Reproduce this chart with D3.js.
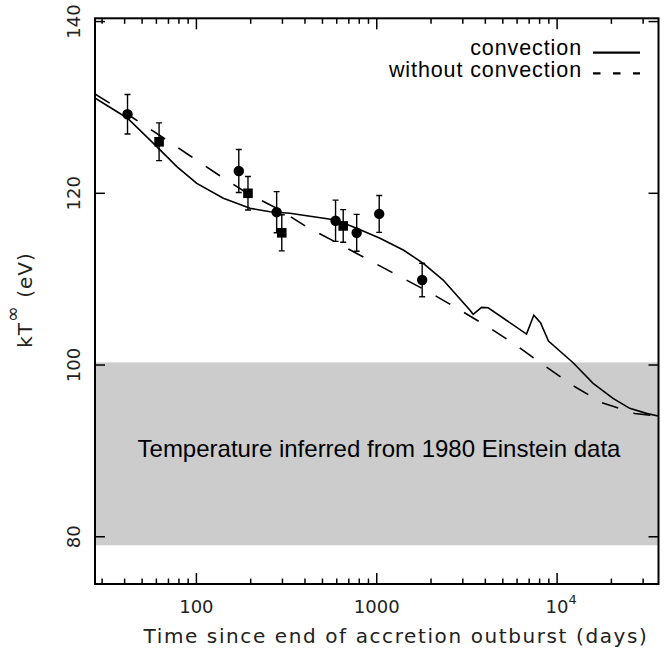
<!DOCTYPE html>
<html>
  <head>
    <meta charset="utf-8">
    <title></title>
    <style>
      body { margin: 0; background: #fff; }
      .lbl { font-family: "DejaVu Sans", sans-serif; font-weight: normal; fill: #222; }
      .txt { font-family: "Liberation Sans", Arial, sans-serif; fill: #000; }
    </style>
  </head>
  <body>

    <div id="chart"></div>
    <script src="https://d3js.org/d3.v7.min.js" charset="utf-8"></script>
    <script>

      const width = 667;
      const height = 656;

      // data points with error bars (days, eV)
      const circleT   = [41.5, 171.8, 278.6, 591, 774, 1032, 1786];
      const circleKT  = [129.2, 122.6, 117.8, 116.8, 115.4, 117.6, 109.9];
      const circleErr = [2.3, 2.5, 2.4, 2.4, 2.15, 2.15, 1.95];

      const squareT   = [62.1, 193.2, 297.4, 651.7];
      const squareKT  = [126.0, 120.0, 115.4, 116.2];
      const squareErr = [2.2, 1.95, 2.1, 1.9];

      // model curves
      const convT  = [27.5, 41.5, 60.3, 77.9, 100.5, 141.1, 198.4, 256.1, 330.4, 391.7, 591.9, 773.8,
                      1042, 1403, 1811, 2335, 3281, 3424, 3812, 4148, 6768, 7428, 8091, 8959,
                      12270, 15840, 20430, 25290, 31270, 36280];
      const convKT = [131.07, 128.74, 125.43, 123.10, 121.16, 119.42, 118.25, 117.86, 117.67, 117.44, 116.89, 115.92,
                      114.76, 113.40, 111.85, 109.90, 106.41, 105.91, 106.72, 106.67, 103.61, 105.79, 104.93, 102.80,
                      100.27, 97.87, 96.12, 94.96, 94.37, 94.06];

      const noConvT  = [27.5, 42.9, 62.1, 89.9, 129.8, 188.4, 291, 405.5, 599.6, 882.6, 1294, 1923,
                        2799, 4103, 5904, 8492, 12220, 17700, 26920, 36280];
      const noConvKT = [131.55, 129.0, 126.79, 124.52, 122.28, 120.09, 118.05, 116.14, 114.25, 112.35, 110.48, 108.57,
                        106.58, 104.50, 102.33, 99.95, 97.62, 95.61, 94.36, 94.06];

      // Einstein 1980 band
      const bandKT = [79.0, 100.3];

      const yTicks = [80, 100, 120, 140];
      const xMajor = [100, 1000, 10000];
      const xMinor = [30, 40, 50, 60, 70, 80, 90, 200, 300, 400, 500, 600, 700, 800, 900,
                      2000, 3000, 4000, 5000, 6000, 7000, 8000, 9000, 20000, 30000];

      const pl = 95, pr = 658.5, pt = 18.3, pb = 584;

      const x = d3.scaleLog().domain([27.4, 36500]).range([pl, pr]);
      const y = d3.scaleLinear().domain([74.5, 140.38]).range([pb, pt]);

      const svg = d3.select('#chart')
                    .append('svg')
                    .attr('width', width)
                    .attr('height', height)

      svg.append('defs').append('clipPath').attr('id', 'clip')
         .append('rect')
         .attr('x', pl).attr('y', pt)
         .attr('width', pr - pl).attr('height', pb - pt)

      // grey band
      svg.append('rect')
         .attr('x', pl)
         .attr('width', pr - pl)
         .attr('y', y(bandKT[1]))
         .attr('height', y(bandKT[0]) - y(bandKT[1]))
         .attr('fill', '#cccccc')

      svg.append('text')
         .attr('class', 'txt')
         .attr('x', 379)
         .attr('y', 457)
         .attr('text-anchor', 'middle')
         .attr('font-size', 24)
         .text('Temperature inferred from 1980 Einstein data')

      // ticks
      const ticks = svg.append('g').attr('stroke', '#000').attr('stroke-width', 1.5)
      xMajor.forEach(t => {
        ticks.append('line').attr('x1', x(t)).attr('x2', x(t)).attr('y1', pb).attr('y2', pb - 11)
        ticks.append('line').attr('x1', x(t)).attr('x2', x(t)).attr('y1', pt).attr('y2', pt + 11)
      })
      xMinor.forEach(t => {
        ticks.append('line').attr('x1', x(t)).attr('x2', x(t)).attr('y1', pb).attr('y2', pb - 5.5)
        ticks.append('line').attr('x1', x(t)).attr('x2', x(t)).attr('y1', pt).attr('y2', pt + 5.5)
      })
      yTicks.forEach(t => {
        ticks.append('line').attr('x1', pl).attr('x2', pl + 10).attr('y1', y(t)).attr('y2', y(t))
        ticks.append('line').attr('x1', pr).attr('x2', pr - 10).attr('y1', y(t)).attr('y2', y(t))
      })

      // curves
      const line = d3.line().x(d => x(d[0])).y(d => y(d[1]))
      const plot = svg.append('g').attr('clip-path', 'url(#clip)')

      plot.append('path')
          .attr('d', line(d3.zip(convT, convKT)))
          .attr('fill', 'none')
          .attr('stroke', '#000')
          .attr('stroke-width', 1.6)

      plot.append('path')
          .attr('d', line(d3.zip(noConvT, noConvKT)))
          .attr('fill', 'none')
          .attr('stroke', '#000')
          .attr('stroke-width', 1.6)
          .attr('stroke-dasharray', '17,16')

      // error bars
      const errs = d3.zip(circleT.concat(squareT), circleKT.concat(squareKT), circleErr.concat(squareErr))
      const eb = plot.append('g').attr('stroke', '#000').attr('stroke-width', 1.4)
      errs.forEach(d => {
        const cx = x(d[0])
        eb.append('line').attr('x1', cx).attr('x2', cx).attr('y1', y(d[1] - d[2])).attr('y2', y(d[1] + d[2]))
        eb.append('line').attr('x1', cx - 3).attr('x2', cx + 3).attr('y1', y(d[1] - d[2])).attr('y2', y(d[1] - d[2]))
        eb.append('line').attr('x1', cx - 3).attr('x2', cx + 3).attr('y1', y(d[1] + d[2])).attr('y2', y(d[1] + d[2]))
      })

      plot.selectAll('circle.pt').data(d3.zip(circleT, circleKT))
          .enter().append('circle')
          .attr('class', 'pt')
          .attr('cx', d => x(d[0]))
          .attr('cy', d => y(d[1]))
          .attr('r', 5.2)
          .attr('fill', '#000')

      plot.selectAll('rect.pt').data(d3.zip(squareT, squareKT))
          .enter().append('rect')
          .attr('class', 'pt')
          .attr('x', d => x(d[0]) - 4.8)
          .attr('y', d => y(d[1]) - 4.8)
          .attr('width', 9.6)
          .attr('height', 9.6)
          .attr('fill', '#000')

      // frame
      svg.append('rect')
         .attr('x', pl).attr('y', pt)
         .attr('width', pr - pl).attr('height', pb - pt)
         .attr('fill', 'none')
         .attr('stroke', '#000')
         .attr('stroke-width', 2)

      // tick labels
      yTicks.forEach(t => {
        svg.append('text')
           .attr('class', 'lbl')
           .attr('font-size', 18)
           .attr('text-anchor', 'middle')
           .attr('transform', `translate(80,${y(t)}) rotate(-90)`)
           .text(t)
      })

      const xl = svg.append('g').attr('class', 'lbl').attr('font-size', 18).attr('text-anchor', 'middle')
      xl.append('text').attr('x', x(100)).attr('y', 613).text('100')
      xl.append('text').attr('x', x(1000)).attr('y', 613).text('1000')
      const e4 = xl.append('text').attr('x', x(10000) + 4).attr('y', 613)
      e4.append('tspan').text('10')
      e4.append('tspan').attr('dy', -9).attr('font-size', 13).text('4')

      svg.append('text')
         .attr('class', 'lbl')
         .attr('font-size', 20)
         .attr('letter-spacing', 1.6)
         .attr('text-anchor', 'middle')
         .attr('x', 396)
         .attr('y', 643)
         .text('Time since end of accretion outburst (days)')

      const yl = svg.append('text')
         .attr('class', 'lbl')
         .attr('font-size', 20)
         .attr('letter-spacing', 1)
         .attr('text-anchor', 'middle')
         .attr('transform', 'translate(32,300) rotate(-90)')
      yl.append('tspan').text('kT')
      yl.append('tspan').attr('dy', -13).attr('font-size', 19).text('\u221e')
      yl.append('tspan').attr('dy', 13).text(' (eV)')

      // legend
      const lg = svg.append('g')
      lg.append('text').attr('class', 'txt').attr('font-size', 21.5).attr('letter-spacing', 0.9)
        .attr('text-anchor', 'end').attr('x', 582).attr('y', 54.5).text('convection')
      lg.append('text').attr('class', 'txt').attr('font-size', 21.5).attr('letter-spacing', 0.9)
        .attr('text-anchor', 'end').attr('x', 582).attr('y', 76.5).text('without convection')
      lg.append('line').attr('x1', 593).attr('x2', 640).attr('y1', 52.7).attr('y2', 52.7)
        .attr('stroke', '#000').attr('stroke-width', 2.2)
      lg.append('line').attr('x1', 593).attr('x2', 640).attr('y1', 73.3).attr('y2', 73.3)
        .attr('stroke', '#000').attr('stroke-width', 2.2).attr('stroke-dasharray', '7.5,12.5')

    </script>

  </body>
</html>
